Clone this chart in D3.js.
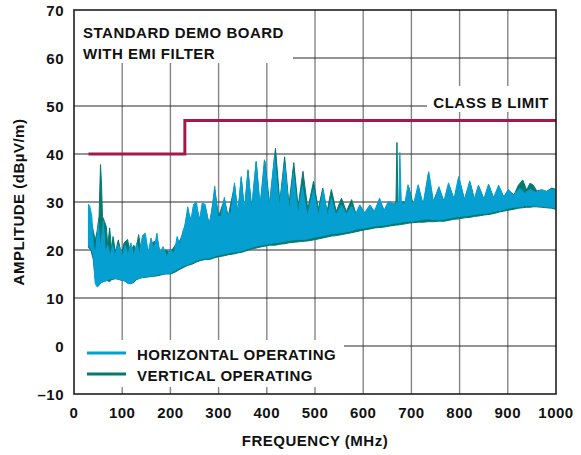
<!DOCTYPE html>
<html>
<head>
<meta charset="utf-8">
<script src="https://cdn.jsdelivr.net/npm/d3@7"></script>
<style>
  body { margin: 0; background: #fff; }
  text { font-family: "Liberation Sans", Arial, sans-serif; font-weight: bold; fill: #111; font-size: 15px; letter-spacing: 0.5px; }
</style>
</head>
<body>
<div id="chart"></div>
<script>
// ticks
var xTicks = [0, 100, 200, 300, 400, 500, 600, 700, 800, 900, 1000];
var yTicks = [-10, 0, 10, 20, 30, 40, 50, 60, 70];

// class B limit, [MHz, dBuV/m]
var limitData = [[30, 40], [230, 40], [230, 47], [1000, 47]];

// horizontal operating: [freq, low, high]
var horizData = [
  [30, 21, 29.5], [33, 20.5, 29], [37, 20, 27], [40, 19, 21], [44, 13, 19],
  [48, 12.3, 23], [51, 12.5, 25.5], [54, 13, 20], [57, 13.2, 22.5], [61, 13.4, 26],
  [65, 13.5, 19.5], [70, 13.8, 21], [75, 14, 18.5], [80, 14, 21], [85, 14.1, 18.8],
  [90, 14, 21], [95, 13.8, 20.7], [100, 13.8, 18.5], [106, 13.5, 21], [112, 13, 19],
  [118, 13, 21.5], [124, 13.5, 18.5], [130, 14, 21.5], [136, 14.1, 19], [142, 14.3, 23],
  [148, 14.5, 23.5], [154, 14.5, 19.5], [160, 14.6, 22.5], [166, 14.7, 20], [172, 14.8, 23.5],
  [178, 15, 19.5], [185, 15, 20.7], [192, 15.1, 18.5], [200, 15.2, 20.3], [207, 15.6, 19],
  [214, 16, 22.8], [220, 16.3, 21], [226, 16.6, 24], [230, 16.8, 25], [236, 17, 29],
  [242, 17.2, 26], [248, 17.5, 29.5], [254, 17.8, 30], [260, 18, 26], [266, 18.2, 29.8],
  [272, 18.3, 29.5], [280, 18.3, 25.5], [286, 18.5, 28], [292, 18.7, 33.3], [298, 18.9, 27],
  [305, 19, 27], [312, 19.2, 31], [318, 19.3, 27.2], [326, 19.5, 28], [333, 19.6, 34],
  [340, 19.7, 27.5], [347, 19.8, 35.3], [353, 20, 28], [361, 20.3, 36.7], [368, 20.5, 28.4],
  [378, 20.8, 38.5], [386, 21, 29], [395, 21.1, 38.8], [405, 21.3, 29], [416, 21.5, 39.5],
  [426, 21.6, 29], [437, 21.8, 37.8], [447, 22, 28], [455, 22.1, 36], [465, 22.2, 27.4],
  [474, 22.2, 33.3], [484, 22.3, 27], [497, 22.6, 32.6], [507, 22.8, 27], [517, 23, 32.6],
  [526, 23.2, 27], [534, 23.4, 30.8], [543, 23.5, 27.2], [555, 23.6, 29.4], [565, 23.8, 27.5],
  [576, 24, 29.1], [584, 24.3, 27.5], [593, 24.5, 29.4], [603, 24.6, 27.8], [614, 24.8, 29.4],
  [623, 25, 28], [634, 25.1, 30.8], [643, 25.2, 28.2], [652, 25.3, 30.1], [660, 25.5, 29.8],
  [666, 25.6, 29.5], [670, 25.6, 30], [674, 25.7, 30], [676, 25.7, 40.3], [679, 25.8, 30],
  [686, 25.9, 29.5], [693, 26, 33.6], [703, 26, 29], [714, 26.2, 33.6], [724, 26.4, 29.5],
  [736, 26.5, 36.3], [746, 26.3, 30], [757, 26.25, 33.2], [767, 26.4, 30], [777, 26.6, 34],
  [788, 26.8, 30.5], [798, 27, 35.3], [810, 27.1, 30.5], [821, 27.2, 34.4], [830, 27.4, 30.5],
  [839, 27.5, 33.5], [850, 27.6, 30.5], [860, 27.7, 33.75], [870, 28, 30.8], [881, 28.2, 33.5],
  [891, 28.4, 31], [901, 28.7, 32.6], [912, 28.9, 31.5], [925, 29, 32.8], [935, 29.2, 31.8],
  [946, 29.2, 32.6], [958, 29.2, 32], [970, 29.1, 32.6], [980, 29, 32.2], [990, 28.9, 32.6],
  [998, 28.7, 32.5]
];

// vertical operating: [freq, low, high]
var vertData = [
  [30, 20.5, 27], [35, 20, 26.5], [40, 18, 24], [44, 14, 22], [48, 12.8, 24],
  [52, 13, 27], [55, 13.2, 37.8], [57, 13.3, 34], [59, 13.4, 27], [63, 13.5, 26],
  [67, 13.6, 24.9], [70, 13.6, 21], [74, 13.4, 24.6], [78, 13.8, 20], [81, 13.9, 22.8],
  [86, 14, 19.5], [92, 13.9, 22.1], [98, 13.7, 19], [104, 13.6, 21.5], [111, 13.2, 22.2],
  [117, 13, 19.5], [124, 13.2, 21], [129, 13.8, 20], [134, 14, 23.2], [140, 14.2, 19.5],
  [148, 14.3, 22], [155, 14.4, 19], [162, 14.5, 21.5], [172, 14.6, 22], [180, 14.8, 19],
  [190, 15, 20], [200, 15, 19.5], [210, 15.4, 21], [220, 16, 22], [228, 16.4, 24],
  [236, 16.8, 28], [244, 17, 26], [254, 17.5, 29], [262, 17.8, 26], [272, 18, 29],
  [281, 18, 25], [292, 18.4, 32.5], [300, 18.6, 27], [312, 18.8, 30.5], [320, 19, 27],
  [333, 19.2, 33.5], [340, 19.4, 27.5], [347, 19.5, 35], [354, 19.7, 28], [361, 20, 36.5],
  [369, 20.2, 28.5], [378, 20.4, 38.3], [386, 20.6, 29], [396, 20.8, 38.5], [406, 21, 29.5],
  [418, 21, 41.2], [427, 21.2, 30], [437, 21.3, 39.4], [446, 21.5, 29.5], [456, 21.6, 38.2],
  [465, 21.7, 29], [475, 21.8, 36.4], [485, 21.9, 28.5], [497, 22.1, 34.3], [507, 22.3, 28.5],
  [516, 22.5, 32.9], [525, 22.7, 28], [534, 22.9, 32.6], [544, 23, 28], [555, 23.2, 30.8],
  [565, 23.4, 28], [576, 23.6, 30.5], [585, 23.8, 27.5], [594, 24, 29], [604, 24.2, 27.5],
  [615, 24.4, 29], [624, 24.6, 28], [635, 24.7, 30], [645, 24.8, 28], [655, 25, 29.5],
  [664, 25.1, 29.5], [668, 25.2, 30], [670, 25.2, 42.4], [672, 25.2, 30], [678, 25.3, 30],
  [690, 25.5, 30], [695, 25.6, 33], [705, 25.7, 29], [715, 25.8, 33], [725, 25.8, 29],
  [735, 25.9, 35.8], [745, 25.9, 30], [757, 26, 33], [768, 26, 30], [778, 26.2, 33.5],
  [789, 26.4, 30.5], [799, 26.5, 34.8], [810, 26.7, 30.5], [822, 26.8, 34], [831, 27, 30.5],
  [840, 27.1, 33.2], [851, 27.3, 30.5], [861, 27.4, 33.4], [871, 27.6, 30.8], [882, 27.9, 33.2],
  [892, 28.1, 31], [902, 28.3, 32.3], [913, 28.5, 31.5], [922, 28.7, 33.5], [931, 28.8, 34.6],
  [939, 28.9, 32.5], [946, 28.9, 33.9], [953, 29, 33.5], [960, 29, 32.3], [970, 28.9, 32.5],
  [980, 28.8, 32.2], [991, 28.7, 32.9], [998, 28.5, 32.7]
];

var legendNames = ["HORIZONTAL OPERATING", "VERTICAL OPERATING"];
var blue = "#069fd2", teal = "#037a70", maroon = "#a3194b";

var width = 581, height = 455;
var pLeft = 74, pRight = 556, pTop = 10, pBottom = 394;

var xScale = d3.scaleLinear().domain([0, 1000]).range([pLeft, pRight]);
var yScale = d3.scaleLinear().domain([-10, 70]).range([pBottom, pTop]);

var svg = d3.select("#chart").append("svg")
    .attr("width", width)
    .attr("height", height);

// grid
svg.append("g").selectAll("line")
    .data(xTicks.slice(1, -1))
    .enter().append("line")
    .attr("x1", function (d) { return xScale(d); })
    .attr("x2", function (d) { return xScale(d); })
    .attr("y1", pTop).attr("y2", pBottom)
    .attr("stroke", "#858585").attr("stroke-width", 1.4);

svg.append("g").selectAll("line")
    .data(yTicks.slice(1, -1))
    .enter().append("line")
    .attr("y1", function (d) { return yScale(d); })
    .attr("y2", function (d) { return yScale(d); })
    .attr("x1", pLeft).attr("x2", pRight)
    .attr("stroke", "#2a2a2a").attr("stroke-width", 1.2);

// white boxes under the labels hide the grid
svg.append("rect").attr("x", pLeft).attr("y", pTop).attr("width", 219).attr("height", 53).attr("fill", "#fff");
svg.append("rect").attr("x", 427).attr("y", 86).attr("width", pRight - 427).attr("height", 26).attr("fill", "#fff");
svg.append("rect").attr("x", pLeft).attr("y", 340).attr("width", 270).attr("height", 47).attr("fill", "#fff");

var area = d3.area()
    .x(function (d) { return xScale(d[0]); })
    .y0(function (d) { return yScale(d[1]); })
    .y1(function (d) { return yScale(d[2]); });

svg.append("path")
    .datum(vertData)
    .attr("d", area)
    .attr("fill", teal).attr("stroke", teal).attr("stroke-width", 1)
    .attr("stroke-linejoin", "round");

svg.append("path")
    .datum(horizData)
    .attr("d", area)
    .attr("fill", blue).attr("stroke", blue).attr("stroke-width", 1)
    .attr("stroke-linejoin", "round");

var line = d3.line()
    .x(function (d) { return xScale(d[0]); })
    .y(function (d) { return yScale(d[1]); });

svg.append("path")
    .datum(limitData)
    .attr("d", line)
    .attr("fill", "none")
    .attr("stroke", maroon)
    .attr("stroke-width", 3);

// frame
svg.append("rect")
    .attr("x", pLeft).attr("y", pTop)
    .attr("width", pRight - pLeft).attr("height", pBottom - pTop)
    .attr("fill", "none").attr("stroke", "#111").attr("stroke-width", 1.5);

// tick labels
svg.append("g").selectAll("text")
    .data(yTicks)
    .enter().append("text")
    .attr("x", 64)
    .attr("y", function (d) { return yScale(d) + 5.5; })
    .attr("text-anchor", "end")
    .text(function (d) { return d < 0 ? "\u2013" + Math.abs(d) : d; });

svg.append("g").selectAll("text")
    .data(xTicks)
    .enter().append("text")
    .attr("x", function (d) { return xScale(d); })
    .attr("y", 418)
    .attr("text-anchor", "middle")
    .text(function (d) { return d; });

svg.append("text")
    .attr("x", (pLeft + pRight) / 2).attr("y", 446)
    .attr("text-anchor", "middle")
    .text("FREQUENCY (MHz)");

svg.append("text")
    .attr("transform", "translate(24," + ((pTop + pBottom) / 2) + ") rotate(-90)")
    .attr("text-anchor", "middle")
    .text("AMPLITUDE (dB\u00b5V/m)");

svg.append("text").attr("x", 83).attr("y", 38).text("STANDARD DEMO BOARD");
svg.append("text").attr("x", 83).attr("y", 59).text("WITH EMI FILTER");
svg.append("text").attr("x", 549).attr("y", 108).attr("text-anchor", "end").text("CLASS B LIMIT");

// legend
var legend = svg.append("g").selectAll("g")
    .data(legendNames)
    .enter().append("g")
    .attr("transform", function (d, i) { return "translate(0," + (353 + i * 21) + ")"; });

legend.append("line")
    .attr("x1", 87).attr("x2", 126)
    .attr("stroke", function (d, i) { return i === 0 ? blue : teal; })
    .attr("stroke-width", 3);

legend.append("text")
    .attr("x", 137).attr("y", 7)
    .text(function (d) { return d; });
</script>
</body>
</html>
